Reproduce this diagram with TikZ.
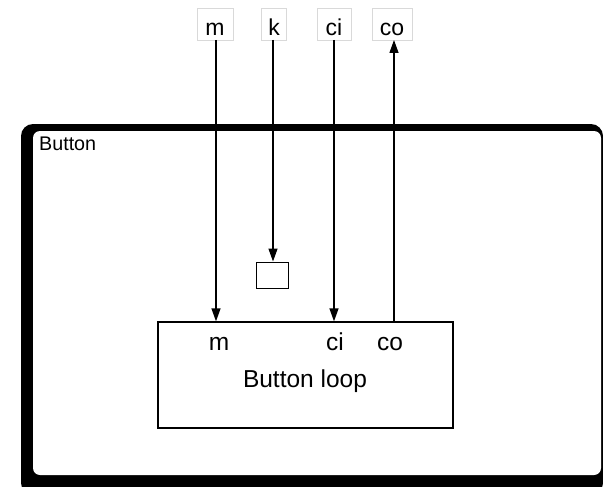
\documentclass[tikz,border=0pt]{standalone}
\usepackage{fontspec}
\setmainfont{Liberation Sans}
\usetikzlibrary{arrows.meta}
\begin{document}
\begin{tikzpicture}[x=1pt,y=-1pt,
  port/.style={draw=gray!30, line width=0.7pt, minimum height=32pt, inner sep=0pt,
    text height=27pt, text depth=3pt, font=\fontsize{23}{25}\selectfont},
  inlabel/.style={anchor=base, inner sep=0pt, font=\fontsize{24.5}{27}\selectfont},
  arr/.style={line width=1.3pt, -{Triangle[width=9pt,length=13pt]}},
  plain/.style={line width=1.3pt}]
\useasboundingbox (0,0) rectangle (603,487);
% outer Button box (thick border with shadow)
\fill[black, rounded corners=12pt] (21,124) rectangle (603,495);
\fill[white, rounded corners=7pt] (33,131) rectangle (601,475);
\node[anchor=base west, inner sep=0pt, font=\fontsize{19.7}{22}\selectfont] (btn) at (39,150) {Button};
% top ports
\node[port, minimum width=36pt] (pm) at (215,24) {m};
\node[port, minimum width=25pt] (pk) at (274,24) {k};
\node[port, minimum width=34pt] (pci) at (334,24) {ci};
\node[port, minimum width=40pt] (pco) at (392,24) {co};
% small box
\node[draw, line width=1pt, minimum width=32pt, minimum height=26pt, inner sep=0pt] (small) at (272,275) {};
% loop box
\node[draw, line width=1.3pt, minimum width=295pt, minimum height=106pt, inner sep=0pt] (loop) at (305.5,375) {};
\node[inlabel] (lm) at (219,350) {m};
\node[inlabel] (lci) at (335,350) {ci};
\node[inlabel] (lco) at (390,350) {co};
\node[inlabel] (lname) at (305,387) {Button loop};
% connectors
\coordinate (m1) at (216,40);
\coordinate (ci1) at (334,40);
\coordinate (co1) at (394,40);
\coordinate (k1) at (273,40);
\draw[arr] (m1) -- (m1 |- loop.north);
\draw[arr] (k1) -- (k1 |- small.north);
\draw[arr] (ci1) -- (ci1 |- loop.north);
\draw[arr] (co1 |- loop.north) -- (co1);
\end{tikzpicture}
\end{document}
